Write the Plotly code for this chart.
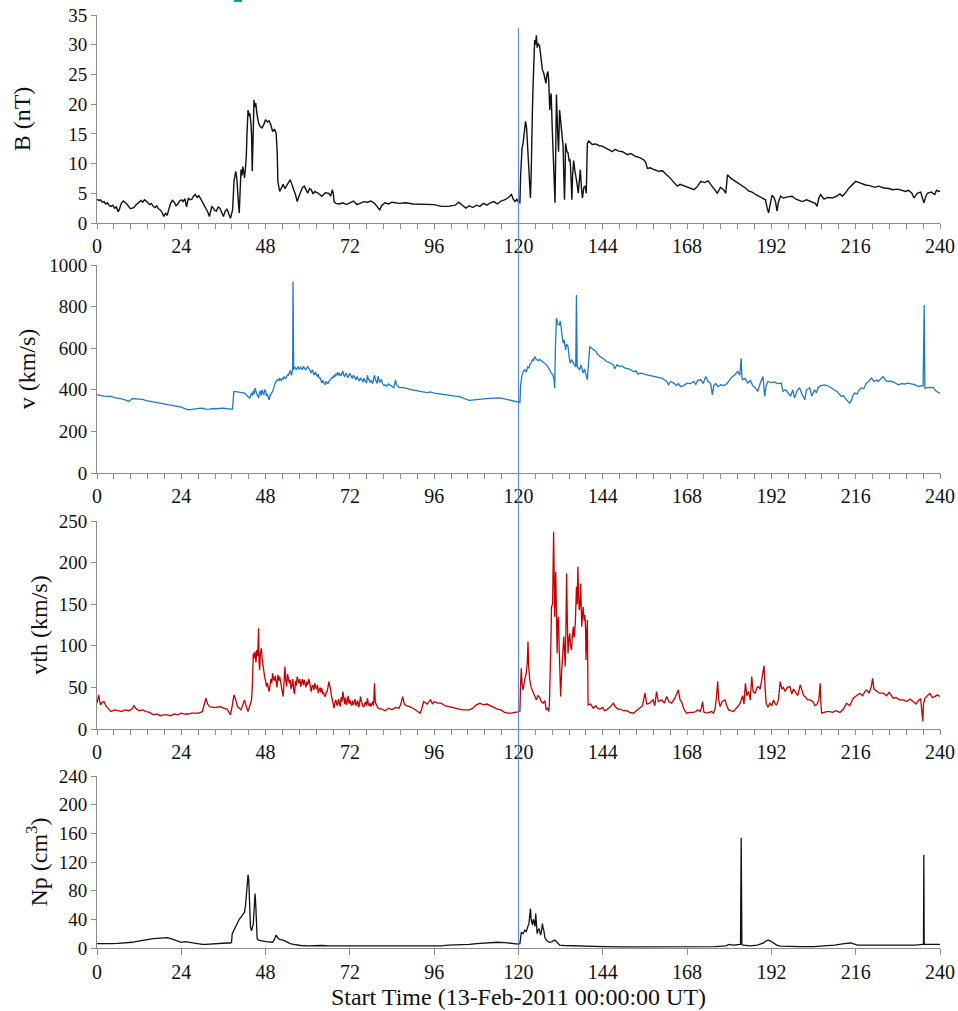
import plotly.graph_objects as go
from plotly.subplots import make_subplots

# ---- magnetic field magnitude B (nT) ----
b_t = [0, 0.5, 1, 1.5, 2, 2.5, 3, 3.5, 4, 4.5, 5, 5.5, 6, 6.3, 6.7, 7, 7.5, 8, 8.5, 9, 9.5, 10, 10.5, 11, 11.5,
       12, 12.5, 13, 13.5, 14, 14.5, 15, 15.5, 16, 16.5, 17, 17.5, 18, 18.5, 19, 19.5, 20, 20.3, 20.7, 21, 21.5,
       22, 22.5, 23, 23.5, 24, 24.5, 25, 25.5, 26, 26.5, 27, 27.5, 28, 28.5, 29, 29.5, 30, 30.5, 31, 31.5, 32,
       32.3, 32.7, 33, 33.5, 34, 34.5, 35, 35.5, 36, 36.5, 37, 37.5, 38, 38.3, 38.6, 38.8, 39, 39.3, 39.5, 39.8,
       40, 40.3, 40.5, 40.7, 41, 41.3, 41.5, 41.8, 42, 42.3, 42.5, 42.7, 43, 43.3, 43.5, 43.8, 44, 44.2, 44.4,
       44.7, 45, 45.2, 45.5, 46, 46.5, 47, 47.5, 48, 48.5, 49, 49.5, 50, 50.5, 51, 51.3, 51.5, 52, 52.5, 53,
       53.5, 54, 54.5, 55, 55.5, 56, 56.5, 57, 57.5, 58, 58.5, 59, 59.5, 60, 60.5, 61, 61.5, 62, 63, 64, 65, 66,
       66.5, 67, 67.3, 67.5, 68, 69, 70, 71, 72, 73, 74, 75, 76, 77, 78, 79, 80, 80.5, 81, 82, 83, 84, 86, 88,
       90, 92, 94, 96, 98, 100, 102, 103, 104, 105, 106, 107, 108, 109, 110, 111, 112, 113, 114, 115, 116, 117,
       118, 118.5, 119, 119.5, 120, 120.4, 120.6, 120.8, 121, 121.3, 121.7, 122, 122.3, 122.5, 122.8, 123,
       123.2, 123.4, 123.6, 123.7, 124, 124.2, 124.4, 124.6, 124.8, 125.1, 125.3, 125.6, 126, 126.3, 126.5,
       126.8, 127.2, 127.5, 127.8, 128.1, 128.4, 128.6, 128.9, 129.1, 129.3, 129.6, 129.8, 130.1, 130.4, 130.6,
       130.8, 131.1, 131.4, 131.7, 132, 132.2, 132.5, 132.7, 132.9, 133.1, 133.3, 133.4, 133.8, 134.1, 134.4,
       134.7, 135, 135.2, 135.4, 135.7, 136, 136.4, 136.7, 137, 137.3, 137.6, 137.9, 138.2, 138.6, 139, 139.3,
       139.5, 139.6, 140, 141, 142, 143, 144, 145, 146, 146.7, 147.5, 148.5, 149.6, 150.5, 151, 152, 153.3,
       154.5, 155.7, 156.2, 156.7, 157.5, 158.5, 160, 161, 162, 162.8, 164, 165.2, 166, 167.6, 169, 170, 171,
       171.9, 173, 174, 174.7, 175.5, 176.6, 177.5, 178.5, 179, 179.3, 179.5, 180.5, 181.8, 183, 184.6, 185.5,
       186.5, 187.5, 188.5, 189.5, 190.3, 190.8, 191.2, 191.6, 192.2, 192.8, 193.2, 193.6, 194, 194.6, 195.5,
       196.5, 197.9, 199, 200, 200.8, 202, 203.6, 204.5, 205, 205.5, 206, 207, 208, 209.3, 210.5, 211.5,
       212.2, 213, 214.1, 215, 216, 217, 218, 218.8, 220, 221.5, 222.6, 224, 225.5, 226.4, 228, 229.5, 230.2,
       231, 232, 232.6, 233.5, 234.5, 235.4, 236, 236.4, 237.5, 238.5, 239, 239.7, 240]
b_val = [4.0, 3.8, 3.9, 3.5, 3.6, 3.2, 3.4, 2.9, 2.8, 3.0, 2.5, 2.7, 1.9, 2.2, 2.9, 3.4, 3.7, 3.5, 3.2, 2.8, 2.4,
         2.5, 2.6, 3.0, 3.3, 3.6, 3.8, 3.5, 3.9, 3.7, 3.4, 3.1, 3.3, 2.8, 2.6, 2.9, 2.4, 2.2, 1.8, 1.1, 1.6, 1.3,
         2.0, 3.0, 3.4, 3.8, 3.5, 2.9, 3.2, 3.7, 3.9, 3.6, 4.1, 2.7, 4.2, 3.9, 4.0, 4.5, 4.8, 4.3, 4.6, 4.1, 3.6,
         3.1, 2.5, 1.9, 1.1, 2.0, 2.8, 2.6, 2.1, 2.0, 2.7, 2.5, 1.8, 1.1, 2.0, 2.3, 1.6, 0.8, 1.5, 2.2, 4.5, 7.0,
         8.0, 8.7, 7.5, 5.0, 3.0, 1.7, 5.0, 9.0, 8.0, 9.5, 8.5, 7.6, 9.5, 11.2, 15.0, 19.0, 18.0, 18.5, 17.0,
         15.0, 8.7, 14.0, 20.7, 19.5, 20.2, 18.5, 16.8, 16.2, 16.0, 16.6, 17.4, 17.0, 17.2, 16.5, 15.4, 15.8,
         15.1, 12.0, 7.0, 5.3, 6.0, 6.5, 5.8, 6.2, 6.8, 7.3, 6.3, 5.6, 4.8, 3.6, 4.5, 5.3, 6.0, 6.2, 5.5, 5.0,
         5.8, 5.6, 4.9, 5.3, 5.0, 4.5, 5.1, 5.0, 4.5, 5.6, 4.8, 3.6, 3.3, 3.2, 3.4, 3.1, 3.4, 3.7, 3.1, 3.3, 3.6,
         3.5, 3.7, 3.3, 2.5, 2.2, 2.9, 3.4, 3.2, 3.5, 3.3, 3.4, 3.2, 3.2, 3.1, 3.1, 2.8, 2.8, 3.0, 3.5, 3.0, 2.5,
         2.9, 2.6, 3.0, 2.8, 3.3, 3.0, 3.4, 3.6, 3.2, 3.7, 3.9, 4.2, 4.8, 4.0, 3.6, 4.0, 3.5, 3.4, 8.0, 11.5,
         12.5, 13.4, 15.5, 17.1, 16.0, 14.0, 11.0, 9.5, 6.0, 4.2, 8.0, 13.0, 20.0, 24.0, 28.5, 30.8, 30.0, 31.6,
         29.5, 30.2, 29.8, 28.0, 26.6, 25.8, 25.2, 24.5, 23.5, 25.0, 25.5, 24.0, 19.0, 21.0, 21.8, 16.0, 12.3,
         7.0, 3.4, 12.0, 21.6, 16.0, 12.0, 19.0, 17.0, 16.2, 14.0, 12.9, 8.0, 3.9, 9.0, 13.4, 12.0, 11.8, 10.5,
         10.6, 7.0, 3.9, 8.0, 10.5, 9.0, 7.8, 6.5, 5.0, 8.0, 9.0, 6.0, 4.2, 6.0, 6.2, 5.0, 9.0, 13.4, 13.8, 13.2,
         13.3, 13.0, 12.9, 12.6, 12.3, 12.0, 12.4, 12.1, 12.0, 11.6, 11.5, 11.7, 11.2, 11.0, 10.6, 10.2, 9.2, 9.3,
         9.0, 8.7, 8.8, 8.2, 7.8, 7.0, 6.2, 6.5, 6.1, 5.8, 5.6, 6.2, 7.0, 6.8, 7.1, 6.5, 5.8, 5.0, 6.0, 5.5, 5.0,
         6.5, 8.1, 7.5, 7.0, 6.5, 5.9, 5.4, 5.2, 4.8, 4.5, 4.2, 3.9, 2.5, 1.7, 3.0, 4.7, 4.2, 3.5, 2.0, 3.5, 4.5,
         4.2, 4.4, 4.5, 4.0, 3.8, 3.6, 3.9, 3.6, 3.3, 2.8, 4.2, 4.8, 4.0, 4.3, 4.2, 4.5, 4.9, 4.5, 5.0, 5.9, 6.5,
         7.0, 6.8, 6.5, 6.4, 6.3, 6.0, 6.2, 5.9, 5.8, 5.6, 5.7, 5.5, 5.3, 5.5, 5.0, 4.2, 5.0, 5.2, 3.4, 4.5, 5.0,
         5.2, 4.8, 5.5, 5.3, 5.4]

# ---- bulk speed v (km/s): quiet start, disturbed middle, recovery ----
v_t_a = [0, 1, 2, 3, 4, 5, 6, 7, 8, 8.5, 9, 9.5, 10, 11, 12, 13, 14, 15, 16, 17, 18, 19, 20, 21, 22, 23, 24,
         25, 26, 27, 28, 29, 30, 31, 32, 33, 34, 35, 36, 37, 38, 38.6, 38.8, 39, 40, 41, 42, 42.5, 43, 43.5]
v_val_a = [376, 372, 370, 368, 368, 362, 360, 356, 352, 348, 344, 350, 357, 356, 355, 354, 348, 345, 341, 338,
           335, 332, 328, 326, 322, 320, 317, 310, 304, 306, 310, 311, 312, 306, 307, 310, 309, 311, 312, 309,
           306, 307, 360, 392, 390, 386, 384, 375, 368, 360]
v_t_b = [44.0, 44.25, 44.5, 44.75, 45.0, 45.25, 45.5, 45.75, 46.0, 46.25, 46.5, 46.75, 47.0, 47.25, 47.5, 47.75,
         48.0, 48.25, 48.5, 48.75, 49.0, 49.25, 49.5, 49.75, 50.0, 50.25, 50.5, 50.75, 51.0, 51.25, 51.5, 51.75,
         52.0, 52.25, 52.5, 52.75, 53.0, 53.25, 53.5, 53.75, 54.0, 54.25, 54.5, 54.75, 55.0, 55.25, 55.4, 55.6,
         55.7, 55.8, 55.9, 56.0, 56.25, 56.5, 56.75, 57.0, 57.25, 57.5, 57.75, 58.0, 58.25, 58.5, 58.75, 59.0,
         59.25, 59.5, 59.75, 60.0, 60.25, 60.5, 60.75, 61.0, 61.25, 61.5, 61.75, 62.0, 62.25, 62.5, 62.75, 63.0,
         63.25, 63.5, 63.75, 64.0, 64.25, 64.5, 64.75, 65.0, 65.25, 65.5, 65.75, 66.0, 66.25, 66.5, 66.75, 67.0,
         67.25, 67.5, 67.75, 68.0, 68.25, 68.5, 68.75, 69.0, 69.25, 69.5, 69.75, 70.0, 70.25, 70.5, 70.75, 71.0,
         71.25, 71.5, 71.75, 72.0, 72.25, 72.5, 72.75, 73.0, 73.25, 73.5, 73.75, 74.0, 74.25, 74.5, 74.75, 75.0,
         75.25, 75.5, 75.75, 76.0, 76.25, 76.5, 76.75, 77.0, 77.25, 77.5, 77.75, 78.0, 78.25, 78.5, 78.75, 79.0,
         79.25, 79.5, 79.75, 80.0, 80.25, 80.5, 80.75, 81.0, 81.25, 81.5, 81.75, 82.0, 82.5, 83.0, 83.5, 84.0,
         84.5, 85.0, 85.25, 85.5, 86.0]
v_val_b = [385, 372, 395, 380, 408, 390, 380, 372, 360, 385, 395, 372, 400, 385, 375, 398, 395, 370, 380, 365,
           352, 370, 375, 385, 392, 410, 420, 432, 440, 445, 450, 442, 456, 448, 445, 455, 452, 462, 460, 455,
           464, 472, 470, 480, 493, 478, 470, 490, 500, 920, 500, 496, 510, 505, 498, 504, 512, 498, 505, 509,
           500, 500, 512, 505, 498, 495, 505, 512, 505, 500, 490, 480, 495, 490, 470, 478, 485, 470, 465, 475,
           455, 460, 445, 432, 445, 440, 430, 424, 440, 435, 428, 440, 445, 450, 455, 461, 458, 470, 465, 475,
           470, 485, 470, 480, 468, 470, 482, 490, 470, 465, 475, 480, 462, 460, 472, 477, 468, 462, 455, 470,
           458, 455, 448, 464, 455, 450, 442, 458, 448, 445, 438, 456, 445, 440, 432, 470, 450, 448, 435, 445,
           440, 430, 455, 470, 450, 440, 430, 465, 440, 435, 445, 450, 430, 425, 420, 424, 418, 428, 420, 416,
           410, 448, 425, 420, 412]
v_t_c = [87, 88, 89, 90, 91, 92, 93, 94, 95, 96, 97, 98, 99, 100, 101, 102, 103, 104, 105, 106, 107, 108, 109,
         110, 111, 112, 113, 114, 115, 116, 117, 118, 119, 120, 120.4, 120.6, 120.8, 121, 121.4, 121.8, 122.2,
         122.6, 123, 123.2, 123.6, 124, 124.3, 124.6, 125, 125.6, 126, 126.5, 127, 127.5, 128, 128.5, 128.9,
         129.3, 129.8, 130.1, 130.3, 130.5, 130.8, 131.2, 131.6, 131.9, 132.2, 132.5, 132.7, 133, 133.4, 133.7,
         134.1, 134.4, 134.7, 135.1, 135.5, 135.9, 136.3, 136.5, 136.7, 137, 137.4, 137.8, 138.1, 138.4, 138.8,
         139.2, 139.6, 139.9, 140.3, 140.8, 141.3, 142, 142.6, 143.2, 144, 145.1, 146, 147, 147.4, 148, 148.9,
         149.5, 150.2, 150.8, 151.5, 152, 152.7, 153.5, 154, 154.6, 155.5, 156.5, 157.5, 158.5, 159.5, 160.8,
         161.5, 162.2, 162.7, 163.3, 164.2, 165, 165.5, 166.1, 167, 168, 169, 169.9, 170.5, 171, 171.9, 172.6,
         173.3, 174, 174.7, 175.2, 175.6, 176.1, 176.8, 177.6, 178.5, 179.4, 180.2, 180.9, 181.5, 182.4, 183,
         183.4, 183.6, 183.8, 184.5, 185.3, 186, 186.7, 187.4, 188.1, 188.8, 189.6, 190.1, 190.5, 191, 192,
         192.9, 193.8, 194.8, 195.3, 196, 196.7, 197.5, 198.1, 198.6, 199.3, 200, 200.7, 201.5, 202, 202.9,
         203.5, 204.3, 204.8, 205.3, 206, 207.2, 208.5, 210, 210.8, 211.9, 212.5, 213.2, 213.8, 214.3, 214.8,
         215.2, 215.7, 216.4, 217, 217.6, 218.3, 219, 219.7, 220.5, 221.2, 222, 222.4, 223.1, 223.8, 224.5,
         225.2, 226, 227, 228.1, 229, 230, 230.9, 231.8, 232.8, 233.8, 234.5, 235.2, 235.5, 235.7, 236.5, 237.2,
         238.1, 238.8, 239.5, 240]
v_val_c = [410, 408, 402, 400, 396, 392, 388, 386, 390, 384, 382, 379, 378, 376, 372, 370, 368, 363, 355, 349,
           350, 352, 352, 356, 358, 359, 362, 361, 360, 356, 352, 350, 346, 342, 339, 420, 470, 472, 490, 496,
           485, 510, 505, 520, 530, 545, 540, 560, 548, 540, 546, 540, 536, 530, 520, 505, 496, 480, 472, 450,
           408, 600, 744, 715, 712, 730, 690, 650, 624, 640, 592, 620, 608, 560, 528, 545, 530, 520, 510, 856,
           512, 505, 496, 520, 490, 480, 500, 470, 448, 520, 608, 600, 592, 585, 570, 560, 552, 536, 530, 520,
           500, 520, 512, 515, 505, 504, 500, 495, 488, 490, 475, 480, 478, 472, 468, 464, 460, 456, 448, 440,
           424, 440, 432, 420, 430, 416, 420, 432, 430, 440, 425, 445, 448, 430, 464, 440, 430, 376, 420, 430,
           415, 424, 420, 430, 450, 464, 470, 488, 470, 552, 460, 448, 455, 432, 445, 420, 410, 392, 430, 464,
           368, 420, 440, 435, 438, 430, 432, 392, 400, 384, 370, 400, 360, 395, 410, 380, 352, 400, 410, 370,
           400, 385, 410, 420, 424, 416, 400, 390, 368, 372, 355, 344, 336, 350, 372, 384, 380, 400, 410, 405,
           432, 440, 456, 440, 448, 440, 450, 464, 445, 440, 442, 436, 424, 430, 428, 432, 428, 425, 416, 418,
           420, 808, 408, 410, 412, 410, 395, 387, 384]

# ---- thermal speed vth (km/s) ----
vth_t_a = [0, 0.3, 0.5, 0.8, 1, 1.5, 2, 2.5, 3, 3.5, 4, 5, 6, 7, 8, 9, 10, 10.5, 11, 12, 13, 14, 15, 16, 17, 18,
           19, 20, 21, 22, 23, 24, 25, 26, 27, 28, 29, 30, 30.5, 31, 31.5, 32, 33, 34, 35, 36, 37, 38, 38.5, 39,
           39.5, 40, 41, 42, 42.5, 43, 43.5]
vth_val_a = [31, 36, 41, 33, 29, 32, 33, 28, 25, 23, 21, 23, 22, 21, 23, 22, 24, 28, 25, 22, 23, 21, 20, 17, 18,
             16, 17, 17, 16, 18, 17, 19, 18, 18, 19, 19, 19, 21, 28, 37, 30, 27, 26, 26, 27, 25, 24, 17, 28, 41,
             35, 27, 23, 35, 27, 21, 28]
vth_t_b = [44.0, 44.25, 44.5, 44.75, 45.0, 45.25, 45.5, 45.75, 46.0, 46.15, 46.3, 46.5, 46.8, 47.0, 47.2, 47.5,
           47.75, 48.0, 48.25, 48.5, 48.75, 49.0, 49.25, 49.5, 49.75, 50.0, 50.25, 50.5, 50.75, 51.0, 51.25, 51.5,
           51.75, 52.0, 52.25, 52.5, 52.75, 53.0, 53.25, 53.5, 53.75, 54.0, 54.25, 54.5, 54.75, 55.0, 55.25, 55.5,
           55.75, 56.0, 56.25, 56.5, 56.75, 57.0, 57.25, 57.5, 57.75, 58.0, 58.25, 58.5, 58.75, 59.0, 59.25, 59.5,
           59.75, 60.0, 60.25, 60.5, 60.75, 61.0, 61.25, 61.5, 61.75, 62.0, 62.25, 62.5, 62.75, 63.0, 63.25, 63.5,
           63.75, 64.0, 64.25, 64.5, 64.75, 65.0, 65.25, 65.5, 65.75, 66.0, 66.25, 66.5, 66.75, 67.0, 67.25, 67.5,
           67.75, 68.0, 68.25, 68.5, 68.75, 69.0, 69.25, 69.5, 69.75, 70.0, 70.25, 70.5, 70.75, 71.0, 71.25, 71.5,
           71.75, 72.0, 72.25, 72.5, 72.75, 73.0, 73.25, 73.5, 73.75, 74.0, 74.25, 74.5, 74.75, 75.0, 75.25, 75.5,
           75.75, 76.0, 76.25, 76.5, 76.75, 77.0, 77.25, 77.5, 77.75, 78.0, 78.25, 78.5, 78.75, 79.0, 79.25, 79.5,
           79.75, 80.0]
vth_val_b = [35, 55, 91, 85, 93, 80, 95, 88, 121, 80, 71, 90, 97, 85, 78, 67, 62, 58, 51, 55, 48, 45, 52, 60, 55,
             67, 60, 58, 64, 57, 50, 65, 58, 63, 55, 50, 45, 39, 60, 75, 58, 51, 66, 62, 55, 59, 48, 52, 60, 47,
             42, 58, 52, 63, 56, 55, 60, 51, 56, 60, 53, 59, 54, 50, 57, 53, 60, 57, 50, 45, 52, 52, 47, 55, 50,
             48, 53, 43, 47, 50, 44, 49, 42, 44, 40, 39, 44, 45, 50, 57, 52, 48, 40, 35, 30, 25, 32, 35, 30, 28,
             36, 31, 27, 38, 33, 45, 35, 30, 38, 29, 33, 40, 30, 35, 31, 28, 34, 29, 32, 36, 28, 31, 34, 26, 30,
             39, 33, 30, 27, 27, 31, 32, 28, 37, 30, 28, 31, 27, 30, 33, 28, 55, 32, 30, 27, 25]
vth_t_c = [81, 82, 83, 84, 85, 86, 86.5, 87, 87.5, 88, 89, 90, 91, 92, 92.5, 93, 94, 95, 95.5, 96, 97, 98, 99,
           100, 101, 102, 103, 104, 105, 106, 107, 108, 109, 110, 111, 112, 113, 114, 115, 116, 117, 118, 119,
           120, 120.4, 120.6, 120.8, 121, 121.3, 121.7, 122.2, 122.5, 122.7, 122.9, 123.2, 123.6, 124.2, 124.6,
           125.1, 125.5, 126, 126.5, 127, 127.5, 127.9, 128.3, 128.6, 128.8, 129, 129.2, 129.4, 129.7, 130,
           130.2, 130.3, 130.6, 130.8, 131, 131.2, 131.4, 131.6, 131.7, 132, 132.3, 132.5, 132.9, 133.1, 133.3,
           133.5, 133.7, 133.9, 134.1, 134.3, 134.6, 134.8, 135.1, 135.3, 135.6, 135.8, 136, 136.2, 136.5, 136.7,
           136.9, 137.1, 137.3, 137.5, 137.7, 137.9, 138, 138.2, 138.4, 138.7, 138.9, 139.1, 139.2, 139.4, 139.6,
           139.7, 139.8, 140.5, 141.3, 142, 142.5, 143.2, 144, 144.5, 145.1, 146, 147, 147.5, 148.3, 148.9,
           149.8, 150.8, 151.7, 152.7, 153.6, 154.6, 155.3, 156, 156.5, 157.4, 158.3, 158.8, 159.3, 159.8, 160.8,
           161.5, 162.2, 162.8, 163.6, 164.5, 165.5, 166, 166.4, 167.2, 167.9, 168.8, 169.8, 170.5, 171, 171.7,
           172.1, 172.4, 172.8, 173.6, 174.5, 175, 175.5, 176, 176.4, 176.7, 177, 177.4, 178, 178.8, 179.3,
           179.8, 180.5, 181.2, 182, 182.5, 183.1, 183.8, 184.2, 184.6, 185, 185.5, 186, 186.4, 186.8, 187.4,
           187.9, 188.3, 188.8, 189.3, 189.9, 190.2, 190.5, 191, 191.6, 192.1, 192.6, 193.1, 193.5, 194, 194.5,
           195, 195.4, 195.9, 196.5, 197.3, 197.8, 198.3, 198.8, 199.5, 200.2, 200.7, 201.2, 201.6, 202.3, 203,
           203.8, 204.4, 204.9, 205.5, 205.9, 206.1, 206.3, 207, 207.8, 208.7, 209.5, 210.4, 211.5, 212.5, 213.4,
           214.3, 215.3, 216.2, 217.2, 218, 218.6, 219.1, 219.8, 220.5, 220.8, 221.2, 222, 222.8, 223.9, 224.8,
           225.5, 226.7, 227.5, 228.4, 229.6, 230.5, 231.5, 232.4, 233.2, 234, 234.5, 235.1, 235.3, 235.7, 236.4,
           237.1, 237.8, 238.6, 239.2, 240]
vth_val_c = [24, 22, 25, 23, 26, 25, 30, 39, 30, 28, 27, 25, 22, 19, 25, 33, 30, 35, 30, 33, 31, 31, 28, 27, 26,
             25, 24, 23, 23, 23, 25, 29, 31, 29, 30, 28, 26, 24, 23, 20, 19, 19, 20, 21, 21, 55, 73, 55, 47, 58,
             67, 80, 105, 75, 59, 50, 43, 40, 35, 40, 38, 33, 31, 34, 23, 25, 21, 30, 55, 100, 147, 150, 237, 160,
             135, 189, 120, 91, 130, 135, 95, 67, 39, 70, 87, 111, 95, 75, 120, 187, 130, 91, 105, 115, 100, 95,
             110, 123, 110, 115, 130, 171, 150, 195, 160, 143, 150, 175, 140, 123, 135, 147, 130, 137, 120, 83,
             110, 131, 80, 29, 30, 25, 28, 25, 24, 26, 22, 23, 26, 31, 27, 24, 24, 22, 22, 20, 19, 22, 25, 28, 43,
             30, 31, 35, 28, 45, 33, 35, 31, 39, 33, 31, 37, 47, 35, 33, 23, 19, 20, 20, 21, 23, 21, 26, 33, 20,
             19, 20, 21, 19, 25, 40, 57, 35, 27, 33, 35, 28, 23, 22, 21, 25, 27, 31, 40, 30, 55, 40, 45, 35, 63,
             45, 43, 50, 51, 48, 63, 76, 50, 31, 26, 31, 28, 35, 30, 29, 35, 57, 48, 50, 45, 50, 51, 42, 48, 45,
             40, 53, 45, 40, 39, 35, 35, 33, 28, 29, 35, 55, 30, 19, 20, 21, 21, 20, 22, 20, 24, 31, 28, 37, 40,
             43, 40, 45, 47, 43, 52, 61, 48, 45, 43, 43, 40, 44, 37, 38, 35, 35, 33, 36, 33, 30, 35, 36, 9, 30, 37,
             40, 43, 38, 39, 41, 39]

# ---- proton density Np (cm^-3) ----
np_t = [0, 2, 4, 6, 8, 9, 10, 11, 12, 13, 14, 15, 16, 17, 18, 19, 20, 21, 22, 23, 24, 25, 26, 27, 28, 29, 30,
        31, 32, 33, 34, 35, 36, 37, 38, 38.3, 38.5, 39, 39.5, 40, 40.5, 41, 41.5, 42, 42.3, 42.5, 42.8, 43, 43.2,
        43.3, 43.5, 43.7, 44, 44.3, 44.5, 44.8, 45, 45.2, 45.3, 45.6, 46, 46.5, 47, 48, 49, 50, 50.5, 51, 51.5,
        52, 53, 54, 55, 56, 57, 58, 60, 62, 64, 66, 68, 70, 72, 74, 76, 78, 80, 82, 84, 86, 88, 90, 92, 94, 96,
        98, 100, 102, 104, 106, 108, 110, 112, 114, 116, 118, 119, 120, 120.4, 120.6, 120.8, 121.3, 121.8,
        122.2, 122.7, 123, 123.2, 123.4, 123.6, 124, 124.2, 124.5, 124.7, 124.9, 125.1, 125.3, 125.6, 125.9,
        126.1, 126.3, 126.6, 126.8, 127, 127.2, 127.5, 127.9, 128.4, 128.9, 129.5, 130.3, 131, 131.7, 133,
        135.5, 138, 140.3, 144, 150, 156, 162, 168, 172, 176, 179, 180, 181, 182, 183, 183.2, 183.4, 183.6, 184,
        186, 188, 189, 189.8, 190.5, 191.2, 192, 192.6, 193.5, 194.5, 197, 200, 204, 207, 210, 212.7, 214.6,
        216.5, 220, 223, 226, 230, 233, 235, 235.3, 235.4, 235.5, 237, 240]
np_val = [6, 5.5, 6, 6.5, 7, 7.5, 8, 9, 10, 10.5, 11, 12, 13, 13.5, 14, 14.5, 14.5, 13, 11, 10, 8, 9, 8, 7.5, 7,
          6, 5, 5, 5.5, 6, 6.5, 7, 7, 7, 7, 8, 20, 25, 30, 36, 40, 43, 46, 50, 60, 71, 90, 102, 95, 85, 55, 29, 24,
          30, 34, 60, 76, 60, 43, 13, 11, 10, 10, 9, 9, 8, 12, 18, 14, 12, 11, 8, 6, 5, 4, 3.5, 3, 3.5, 3.5, 3, 3,
          3, 3, 2.5, 2.5, 2.5, 2, 2, 2, 2, 2, 2, 2.5, 2.5, 3, 3, 4, 4, 4.5, 5, 6, 7, 8, 8, 7.5, 6, 6, 5.5, 6, 15,
          22, 20, 25, 23, 29, 35, 45, 55, 40, 32, 40, 36, 30, 48, 35, 20, 25, 27, 22, 18, 25, 34, 28, 25, 15, 11,
          9, 8, 9, 11, 8, 4, 3.5, 3, 2.5, 2.5, 2, 1.5, 1.5, 1.5, 1.5, 1.5, 2, 3, 5, 4, 4, 5, 5, 154, 5, 4, 3, 4,
          6, 7, 10, 11, 9, 7, 4, 2.5, 2, 2, 2, 2.5, 4, 6, 7, 4, 3.5, 4, 4, 3.5, 4, 5, 5, 130, 5, 5, 5]

# axis ranges, tick steps and labels
x_range = [0, 240]
x_major = 24
x_minor = 4.8
y_ranges = [[0, 35], [0, 1000], [0, 250], [0, 240]]
y_steps = [5, 200, 50, 40]
y_titles = ["B (nT)", "v (km/s)", "vth (km/s)", "Np (cm<sup>3</sup>)"]
x_title = "Start Time (13-Feb-2011 00:00:00 UT)"
event_time = 120

v_t = v_t_a + v_t_b + v_t_c
v_val = v_val_a + v_val_b + v_val_c
vth_t = vth_t_a + vth_t_b + vth_t_c
vth_val = vth_val_a + vth_val_b + vth_val_c

series = [(b_t, b_val, "#111111", 1.4), (v_t, v_val, "#1f78c8", 1.3),
          (vth_t, vth_val, "#c40000", 1.3), (np_t, np_val, "#111111", 1.3)]

W, H = 958, 1011
M_L, M_R, M_T, M_B = 97, 18, 15, 63
plot_h = H - M_T - M_B  # 933


def ydom(top_px, bottom_px):
    # convert pixel rows of a panel to a paper-fraction domain
    return [(H - M_B - bottom_px) / plot_h, (H - M_B - top_px) / plot_h]


domains = [ydom(15, 223), ydom(265, 473), ydom(521, 729), ydom(776, 948)]

fig = make_subplots(rows=4, cols=1, shared_xaxes=False, vertical_spacing=0.02)

for i, (xs, ys, col, lw) in enumerate(series, start=1):
    fig.add_trace(go.Scatter(x=xs, y=ys, mode="lines",
                             line=dict(color=col, width=lw),
                             showlegend=False, hoverinfo="skip"),
                  row=i, col=1)

font_family = "Liberation Serif"
axis_grey = "#8c8c8c"
text_col = "#111111"
title_standoffs = [30, 6, 4, 4]

for i in range(4):
    sfx = "" if i == 0 else str(i + 1)
    last = (i == 3)
    xa = dict(range=x_range, dtick=x_major, tick0=0, showgrid=False, zeroline=False,
              showline=True, linecolor=axis_grey, linewidth=1, automargin=False,
              ticks="outside", ticklen=6 if last else 5, tickcolor=axis_grey, tickwidth=1,
              tickfont=dict(family=font_family, size=20, color=text_col),
              domain=[0, 1], anchor="y" + sfx)
    if not last:
        xa["minor"] = dict(dtick=x_minor, tick0=0, ticks="outside", ticklen=5,
                           tickcolor=axis_grey, tickwidth=1)
    else:
        xa["title"] = dict(text=x_title, standoff=6,
                           font=dict(family=font_family, size=24, color=text_col))
    fig.layout["xaxis" + sfx].update(xa)

    fig.layout["yaxis" + sfx].update(dict(
        range=y_ranges[i], dtick=y_steps[i], tick0=0, showgrid=False, zeroline=False,
        showline=True, linecolor=axis_grey, linewidth=1, automargin=False,
        ticks="outside", ticklen=5, tickcolor=axis_grey, tickwidth=1,
        tickfont=dict(family=font_family, size=19, color=text_col),
        title=dict(text=y_titles[i], standoff=title_standoffs[i],
                   font=dict(family=font_family, size=24, color=text_col)),
        domain=domains[i], anchor="x" + sfx))

# event marker spanning all four panels
fig.add_shape(type="line", xref="x", yref="paper",
              x0=event_time, x1=event_time, y0=0, y1=(H - M_B - 28) / plot_h,
              line=dict(color="#5b8fd0", width=1.2))

# small teal mark at the very top edge
fig.add_shape(type="rect", xref="paper", yref="paper",
              x0=(234 - M_L) / (W - M_L - M_R), x1=(242 - M_L) / (W - M_L - M_R),
              y0=(H - M_B - 2) / plot_h, y1=(H - M_B) / plot_h,
              fillcolor="#109a9a", line=dict(width=0))

fig.update_layout(template="none", width=W, height=H,
                  margin=dict(l=M_L, r=M_R, t=M_T, b=M_B, autoexpand=False),
                  paper_bgcolor="white", plot_bgcolor="white",
                  font=dict(family=font_family, color=text_col))

fig.write_html("out.html")
